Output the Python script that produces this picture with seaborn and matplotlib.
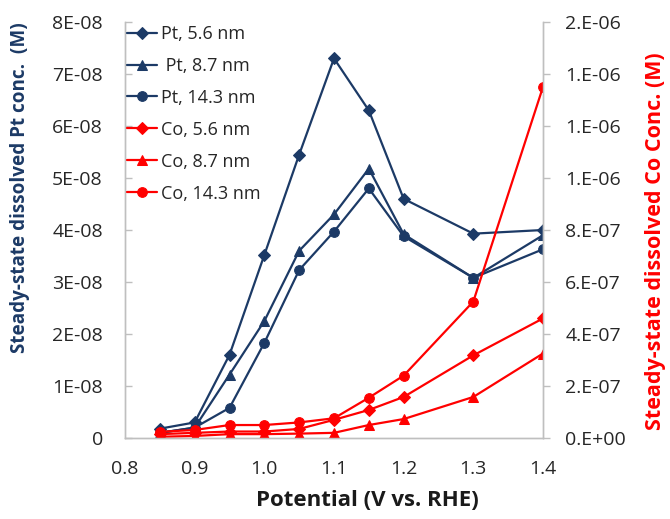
import matplotlib
matplotlib.use('Agg')
import matplotlib.pyplot as plt
import pandas as pd
import seaborn as sns

# potentials (V vs RHE)
potential = [0.85, 0.9, 0.95, 1.0, 1.05, 1.1, 1.15, 1.2, 1.3, 1.4]

# dissolved Pt (M), left axis
pt_56 = [1.8e-9, 3.0e-9, 1.6e-8, 3.52e-8, 5.45e-8, 7.3e-8, 6.3e-8, 4.6e-8, 3.93e-8, 4.0e-8]
pt_87 = [1.0e-9, 2.0e-9, 1.22e-8, 2.25e-8, 3.6e-8, 4.3e-8, 5.18e-8, 3.92e-8, 3.08e-8, 3.9e-8]
pt_143 = [1.0e-9, 2.0e-9, 5.8e-9, 1.83e-8, 3.23e-8, 3.97e-8, 4.8e-8, 3.88e-8, 3.08e-8, 3.63e-8]

# dissolved Co (M), right axis
co_56 = [1.5e-8, 2.0e-8, 2.5e-8, 2.5e-8, 3.5e-8, 7.0e-8, 1.08e-7, 1.58e-7, 3.18e-7, 4.6e-7]
co_87 = [5.0e-9, 8.0e-9, 1.5e-8, 1.5e-8, 1.7e-8, 2.0e-8, 5.0e-8, 7.3e-8, 1.58e-7, 3.25e-7]
co_143 = [2.4e-8, 3.1e-8, 5.0e-8, 5.0e-8, 6.0e-8, 7.6e-8, 1.55e-7, 2.4e-7, 5.25e-7, 1.35e-6]

navy = '#1c3a66'
red = '#ff0000'

sns.set_theme(style='white')
plt.rcParams['font.family'] = ['Open Sans', 'DejaVu Sans']

fig = plt.figure(figsize=(6.7, 5.19), dpi=100)
ax = fig.add_axes([0.1866, 0.156, 0.6238, 0.8016])
ax2 = ax.twinx()

pt_series = [('Pt, 5.6 nm', pt_56, 'D'), (' Pt, 8.7 nm', pt_87, '^'), ('Pt, 14.3 nm', pt_143, 'o')]
co_series = [('Co, 5.6 nm', co_56, 'D'), ('Co, 8.7 nm', co_87, '^'), ('Co, 14.3 nm', co_143, 'o')]

for name, vals, mk in pt_series:
    sns.lineplot(x=potential, y=vals, ax=ax, color=navy, marker=mk, markersize=7 if mk != 'D' else 6.5,
                 markeredgecolor=navy, linewidth=1.6, label=name, legend=False)
for name, vals, mk in co_series:
    sns.lineplot(x=potential, y=vals, ax=ax2, color=red, marker=mk, markersize=7 if mk != 'D' else 6.5,
                 markeredgecolor=red, linewidth=1.6, label=name, legend=False)

ax.set_xlim(0.8, 1.4)
ax.set_ylim(0, 8e-8)
ax2.set_ylim(0, 1.6e-6)
ax.set_xticks([0.8, 0.9, 1.0, 1.1, 1.2, 1.3, 1.4])
ax.set_xticklabels(['0.8', '0.9', '1.0', '1.1', '1.2', '1.3', '1.4'])
ax.set_yticks([i * 1e-8 for i in range(9)])
ax.set_yticklabels(['0'] + [f'{i}E-08' for i in range(1, 9)])
rticks = [i * 2e-7 for i in range(9)]
ax2.set_yticks(rticks)
ax2.set_yticklabels([f'{v:.0E}'.replace('E', '.E') for v in rticks])

for a in (ax, ax2):
    a.spines['top'].set_visible(False)
    for s in ('left', 'right', 'bottom'):
        a.spines[s].set_color('#bfbfbf')
        a.spines[s].set_linewidth(1.0)
    a.tick_params(colors='#262626', labelsize=14, length=5, width=1)
ax.tick_params(axis='both', direction='in', color='#bfbfbf')
ax2.tick_params(axis='y', direction='out', color='#bfbfbf', pad=11)
ax.tick_params(axis='y', pad=16)
ax.tick_params(axis='x', pad=16)

ax.set_xlabel('Potential (V vs. RHE)', fontsize=16, fontweight='bold', color='#1a1a1a')
ax.set_ylabel('Steady-state dissolved Pt conc.  (M)', fontsize=13.6, fontweight='bold', color=navy)
ax2.set_ylabel('Steady-state dissolved Co Conc. (M)', fontsize=15.5, fontweight='bold', color=red)
ax.xaxis.set_label_coords(0.579, -0.151)
ax.xaxis.label.set_va('center')
ax.yaxis.set_label_coords(-0.251, 0.603)
ax.yaxis.label.set_va('center')
ax2.yaxis.set_label_coords(1.27, 0.474)
ax2.yaxis.label.set_va('center')

h1, l1 = ax.get_legend_handles_labels()
h2, l2 = ax2.get_legend_handles_labels()
ax2.legend(h1 + h2, l1 + l2, loc='upper left', bbox_to_anchor=(127 / 670, 1 - 25 / 519),
           bbox_transform=fig.transFigure, frameon=False, fontsize=13, handlelength=1.66,
           handletextpad=0.2, labelspacing=0.77, borderpad=0, borderaxespad=0)

fig.savefig('out.png', dpi=100)
